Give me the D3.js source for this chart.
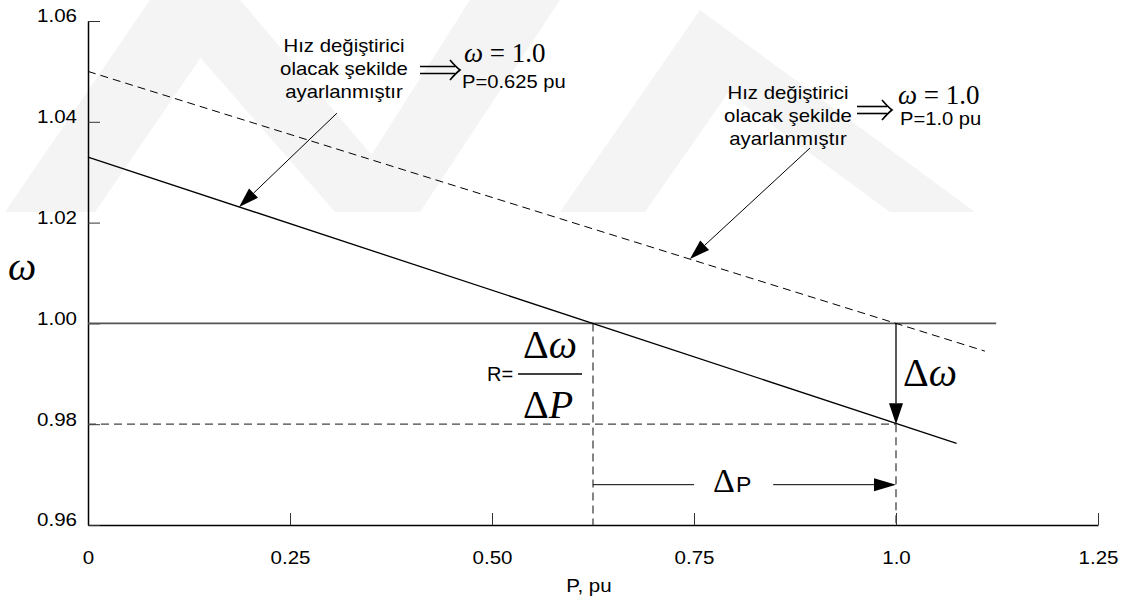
<!DOCTYPE html>
<html>
<head>
<meta charset="utf-8">
<script src="https://cdn.jsdelivr.net/npm/d3@7"></script>
<style>
  body { margin: 0; background: #fff; }
  svg text { fill: #000; }
</style>
</head>
<body>
<div id="chart"></div>
<script>
// ---- data ----
const xTicks = [0, 0.25, 0.5, 0.75, 1.0, 1.25];
const xTickLabels = ['0', '0.25', '0.50', '0.75', '1.0', '1.25'];
const yTicks = [0.96, 0.98, 1.00, 1.02, 1.04, 1.06];
const yTickLabels = ['0.96', '0.98', '1.00', '1.02', '1.04', '1.06'];

// droop characteristics (P, omega)
const droopLow = [[0, 1.033], [1.075, 0.9762]];    // solid, set at P=0.625
const droopHigh = [[0, 1.05], [1.11, 0.9945]];     // dashed, set at P=1.0
const nominalSpeed = [[0, 1.0], [1.124, 1.0]];
const loweredSpeed = [[0, 0.98], [1.0, 0.98]];
const setPoints = [0.625, 1.0];
const deltaPLevel = 0.968;

// leader arrows: from text to the curve it names
const leaders = [
  { from: [0.308, 1.0417], to: [0.187, 1.0231] },
  { from: [0.8936, 1.0348], to: [0.745, 1.0128] }
];

const annotLines = ['Hız değiştirici', 'olacak şekilde', 'ayarlanmıştır'];
const annotP = ['P=0.625 pu', 'P=1.0 pu'];

// faint background watermark (decoration)
const watermark = [
  [[150, 0], [240, 0], [95, 212], [5, 212]],
  [[150, 0], [240, 0], [420, 212], [335, 212]],
  [[335, 212], [420, 212], [560, 0], [470, 0]],
  [[560, 212], [700, 10], [975, 212], [890, 212], [728, 93], [645, 212]]
];

// ---- setup ----
const W = 1130, H = 606;
const sans = "'Liberation Sans', Arial, sans-serif";
const serif = "'Liberation Serif', 'Times New Roman', serif";

const svg = d3.select('#chart').append('svg')
  .attr('width', W)
  .attr('height', H);

svg.append('g').selectAll('path')
  .data(watermark)
  .join('path')
  .attr('d', d => 'M' + d.join('L') + 'Z')
  .attr('fill', '#f4f4f4');

const x = d3.scaleLinear().domain([0, 1.25]).range([88, 1098]);
const y = d3.scaleLinear().domain([0.96, 1.06]).range([525, 21]);

// stretch text horizontally (the original figure is wider than tall)
function stretch(sel, sx) {
  sel.each(function () {
    const w = this.getComputedTextLength();
    d3.select(this).attr('textLength', w * sx).attr('lengthAdjust', 'spacingAndGlyphs');
  });
}

// ---- axes ----
const xAxis = svg.append('g')
  .attr('transform', `translate(0,${y(0.96)})`)
  .call(d3.axisBottom(x).tickValues(xTicks).tickFormat((d, i) => xTickLabels[i])
    .tickSizeInner(-12).tickSizeOuter(0));
xAxis.select('.domain').attr('stroke', '#000').attr('stroke-width', 1.5);
xAxis.selectAll('.tick line').attr('stroke', '#333');
xAxis.selectAll('.tick text')
  .attr('y', 39).attr('dy', null)
  .style('font-family', sans).style('font-size', '19px');
stretch(xAxis.selectAll('.tick text'), 1.08);

const yAxis = svg.append('g')
  .attr('transform', `translate(${x(0)},0)`)
  .call(d3.axisLeft(y).tickValues(yTicks).tickFormat((d, i) => yTickLabels[i])
    .tickSizeInner(-12).tickSizeOuter(0).tickPadding(11));
yAxis.select('.domain').attr('stroke', '#000').attr('stroke-width', 1.5);
yAxis.selectAll('.tick line').attr('stroke', '#333');
yAxis.selectAll('.tick text')
  .attr('dy', '0.05em')
  .style('font-family', sans).style('font-size', '19px');
stretch(yAxis.selectAll('.tick text'), 1.08);

svg.selectAll('.tick text').attr('fill', '#000');
svg.selectAll('.domain, .tick line').attr('fill', 'none');

const xTitle = svg.append('text')
  .attr('x', 589).attr('y', 592)
  .attr('text-anchor', 'middle')
  .style('font-family', sans).style('font-size', '19px')
  .text('P, pu');
stretch(xTitle, 1.08);

svg.append('text')
  .attr('x', 8).attr('y', 280)
  .style('font-family', serif).style('font-size', '40px').style('font-style', 'italic')
  .text('ω');

// ---- lines ----
const line = d3.line().x(d => x(d[0])).y(d => y(d[1]));

svg.append('path').datum(nominalSpeed)
  .attr('d', line).attr('fill', 'none')
  .attr('stroke', '#555').attr('stroke-width', 1.8);

svg.append('path').datum(loweredSpeed)
  .attr('d', line).attr('fill', 'none')
  .attr('stroke', '#444').attr('stroke-width', 1.3).attr('stroke-dasharray', '8,5');

// vertical guides at the two set points
svg.append('path').datum([[setPoints[0], 1.0], [setPoints[0], 0.96]])
  .attr('d', line).attr('fill', 'none')
  .attr('stroke', '#444').attr('stroke-width', 1.3).attr('stroke-dasharray', '8,5');
svg.append('path').datum([[setPoints[1], 0.98], [setPoints[1], 0.96]])
  .attr('d', line).attr('fill', 'none')
  .attr('stroke', '#444').attr('stroke-width', 1.3).attr('stroke-dasharray', '8,5');

svg.append('path').datum(droopHigh)
  .attr('d', line).attr('fill', 'none')
  .attr('stroke', '#000').attr('stroke-width', 1).attr('stroke-dasharray', '8,5');

svg.append('path').datum(droopLow)
  .attr('d', line).attr('fill', 'none')
  .attr('stroke', '#000').attr('stroke-width', 1.3);

// ---- arrows ----
function arrow(x1, y1, x2, y2, len, w, sw) {
  const a = Math.atan2(y2 - y1, x2 - x1);
  const bx = x2 - len * Math.cos(a), by = y2 - len * Math.sin(a);
  const px = -Math.sin(a) * w / 2, py = Math.cos(a) * w / 2;
  svg.append('line')
    .attr('x1', x1).attr('y1', y1).attr('x2', bx).attr('y2', by)
    .attr('stroke', '#000').attr('stroke-width', sw || 1);
  svg.append('path')
    .attr('d', `M${x2},${y2}L${bx + px},${by + py}L${bx - px},${by - py}Z`)
    .attr('fill', '#000');
}

leaders.forEach(l => arrow(x(l.from[0]), y(l.from[1]), x(l.to[0]), y(l.to[1]), 20, 13, 1));

// delta omega arrow at P = 1.0
arrow(x(setPoints[1]), y(1.0), x(setPoints[1]), y(0.98), 21, 14, 1.3);

// delta P arrow
svg.append('line')
  .attr('x1', x(setPoints[0])).attr('y1', y(deltaPLevel))
  .attr('x2', x(0.75)).attr('y2', y(deltaPLevel))
  .attr('stroke', '#000').attr('stroke-width', 1);
arrow(x(0.848), y(deltaPLevel), x(setPoints[1]), y(deltaPLevel), 22, 13, 1);

// ---- texts ----
function deltaLabel(xp, yp, size, second, secondItalic) {
  const t = svg.append('text').attr('x', xp).attr('y', yp)
    .style('font-family', serif).style('font-size', size + 'px');
  t.append('tspan').text('Δ');
  t.append('tspan').style('font-style', secondItalic ? 'italic' : 'normal').text(second);
  return t;
}

// Δω next to the vertical arrow
deltaLabel(903, 386, 40, 'ω', true);

// ΔP along the bottom arrow
svg.append('text').attr('x', 713).attr('y', 492)
  .style('font-family', serif).style('font-size', '34px').text('Δ');
const pLab = svg.append('text').attr('x', 736).attr('y', 492)
  .style('font-family', sans).style('font-size', '22px').text('P');
stretch(pLab, 1.05);

// R = Δω / ΔP
svg.append('text').attr('x', 487).attr('y', 381)
  .style('font-family', sans).style('font-size', '20px').text('R=');
svg.append('line')
  .attr('x1', 518).attr('x2', 582).attr('y1', 374).attr('y2', 374)
  .attr('stroke', '#000').attr('stroke-width', 1.5);
deltaLabel(523, 358, 40, 'ω', true);
deltaLabel(523, 418, 40, 'P', true);

// annotation blocks
function annotation(cx, base, step, arrowX0, arrowX1, arrowY, omX, omBase, pX, pBase, pText) {
  annotLines.forEach((s, i) => {
    const t = svg.append('text')
      .attr('x', cx).attr('y', base + i * step)
      .attr('text-anchor', 'middle')
      .style('font-family', sans).style('font-size', '18.5px')
      .text(s);
    stretch(t, 1.1);
  });
  // double arrow
  const g = svg.append('g').attr('fill', 'none').attr('stroke', '#000').attr('stroke-width', 1.6);
  g.append('line').attr('x1', arrowX0).attr('x2', arrowX1 - 5).attr('y1', arrowY - 3.5).attr('y2', arrowY - 3.5);
  g.append('line').attr('x1', arrowX0).attr('x2', arrowX1 - 5).attr('y1', arrowY + 3.5).attr('y2', arrowY + 3.5);
  g.append('path')
    .attr('d', `M${arrowX1 - 10},${arrowY - 10}Q${arrowX1 - 4},${arrowY - 3} ${arrowX1},${arrowY}Q${arrowX1 - 4},${arrowY + 3} ${arrowX1 - 10},${arrowY + 10}`);

  const om = svg.append('text').attr('x', omX).attr('y', omBase)
    .style('font-family', serif).style('font-size', '27px');
  om.append('tspan').style('font-style', 'italic').text('ω');
  om.append('tspan').text(' = 1.0');

  const p = svg.append('text').attr('x', pX).attr('y', pBase)
    .style('font-family', sans).style('font-size', '18px')
    .text(pText);
  stretch(p, 1.12);
}

annotation(344, 52, 23, 420, 460, 70, 464, 62, 462, 88, annotP[0]);
annotation(788, 99, 23, 857, 892, 110, 898, 104, 900, 125, annotP[1]);
</script>
</body>
</html>
